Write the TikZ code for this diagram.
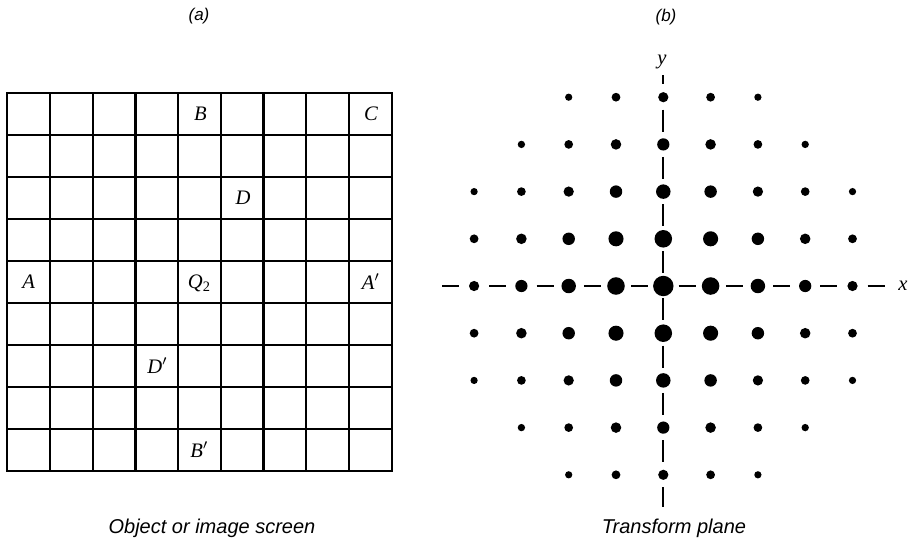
\documentclass[tikz,border=0pt]{standalone}
\usepackage{fontspec}
\setmainfont{Liberation Serif}
\newfontfamily\capfont{Liberation Sans}
\begin{document}
\begin{tikzpicture}[x=0.5pt,y=-0.5pt,
  gridline/.style={line width=1.15pt},
  lbl/.style={font=\fontsize{10.3}{12}\selectfont\itshape, inner sep=0pt},
  captext/.style={font=\capfont\fontsize{10}{12}\selectfont\itshape, inner sep=0pt, anchor=base},
  panel/.style={font=\capfont\fontsize{8.5}{10}\selectfont\itshape, inner sep=0pt},
  axisline/.style={line width=1pt},
  dot/.style={fill=black}]
\useasboundingbox (0,0) rectangle (916,542);
% panel titles
\node[panel] (ta) at (199,16) {(a)};
\node[panel] (tb) at (666,17) {(b)};
% ---- (a) grid ----
\foreach \i in {1,...,8} {
  \draw[gridline] ({7.3+\i*42.71},92.7) -- ({7.3+\i*42.71},470.7);
  \draw[gridline] (7.3,{92.7+\i*42}) -- (391.7,{92.7+\i*42});
}
\draw[gridline] (7.3,92.7) rectangle (391.7,470.7);
% labels in cells
\node[lbl] (B)  at (200.5,113.7) {B};
\node[lbl] (C)  at (371,113.7) {C};
\node[lbl] (D)  at (243,197.7) {D};
\node[lbl] (A)  at (28.7,281.7) {A};
\node[lbl] (Q)  at (199.5,283.7) {Q\textsubscript{\upshape 2}};
\node[lbl] (Ap) at (371,281.7) {A$'$};
\node[lbl] (Dp) at (157.5,365.7) {D$'$};
\node[lbl] (Bp) at (199.5,449.7) {B$'$};
\node[captext] (capa) at (212,533) {Object or image screen};
% ---- (b) transform plane ----
\coordinate (O) at (663.3,286);
\draw[axisline, dash pattern=on 8.5pt off 15.15pt] (442,286) -- (885,286);
\draw[axisline, dash pattern=on 11pt off 12.6pt, dash phase=6.3pt] (663.3,75) -- (663.3,507);
\foreach \i in {-4,...,4} {
  \foreach \j in {-4,...,4} {
    \pgfmathtruncatemacro\s{abs(\i)+abs(\j)}
    \ifnum\s<7
      \pgfmathsetmacro\fa{{1,0.86,0.71,0.6,0.5}[abs(\i)]}
      \pgfmathsetmacro\fb{{1,0.86,0.71,0.6,0.5}[abs(\j)]}
      \pgfmathsetmacro\r{5.1*\fa*\fb}
      \fill[dot] ({663.3+\i*47.3},{286+\j*47.2}) circle[radius=\r pt];
    \fi
  }
}
\node[lbl] (ylab) at (662,62) {y};
\node[lbl] (xlab) at (903,286) {x};
\node[captext] (capb) at (674,533) {Transform plane};
\end{tikzpicture}
\end{document}
